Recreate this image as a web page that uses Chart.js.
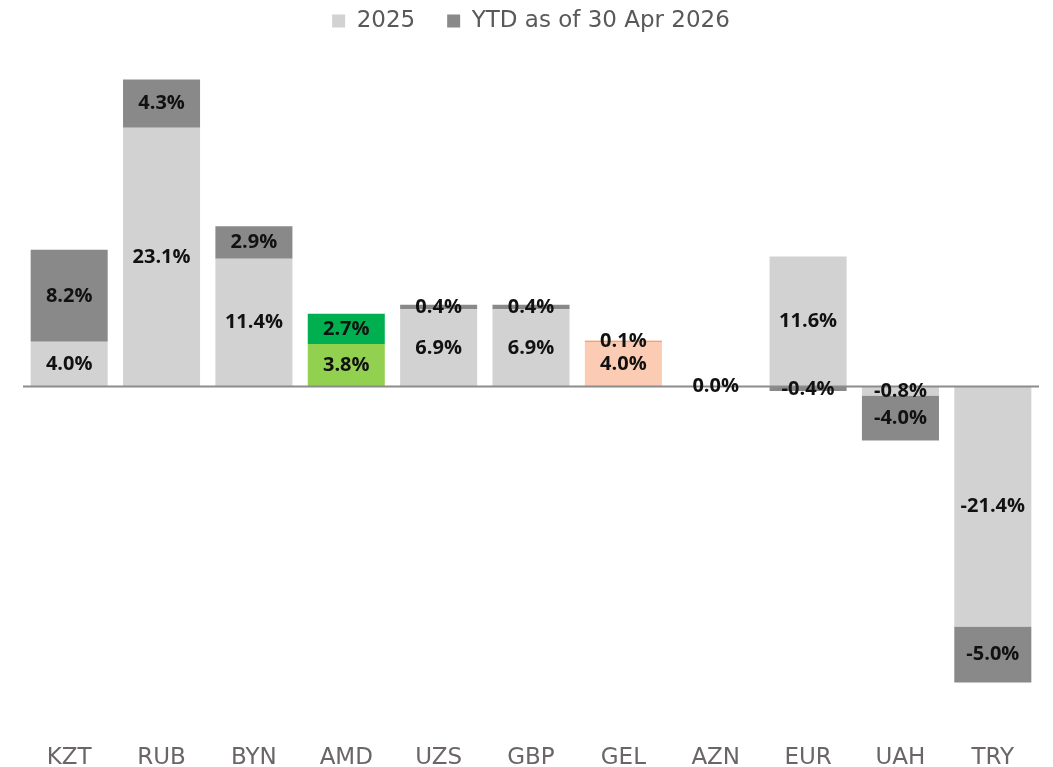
<!DOCTYPE html>
<html>
<head>
<meta charset="utf-8">
<script src="https://cdn.jsdelivr.net/npm/chart.js@4/dist/chart.umd.min.js"></script>
<style>
  html, body { margin: 0; padding: 0; background: #ffffff; }
  #wrap { width: 1053px; height: 767px; }
</style>
</head>
<body>
<div id="wrap"><canvas id="fx-chart"></canvas></div>
<script>
// Currency moves vs USD: full year 2025 and YTD 2026
const categories = ['KZT', 'RUB', 'BYN', 'AMD', 'UZS', 'GBP', 'GEL', 'AZN', 'EUR', 'UAH', 'TRY'];
const values2025 = [4.0, 23.1, 11.4, 3.8, 6.9, 6.9, 4.0, 0.0, 11.6, -0.8, -21.4];
const valuesYtd = [8.2, 4.3, 2.9, 2.7, 0.4, 0.4, 0.1, 0.0, -0.4, -4.0, -5.0];
const seriesNames = ['2025', 'YTD as of 30 Apr 2026'];

// Highlight colours (AMD green, GEL orange), grey elsewhere
const colors2025 = categories.map(c => c === 'AMD' ? '#92d050' : c === 'GEL' ? '#fccbb3' : '#d2d2d2');
const colorsYtd = categories.map(c => c === 'AMD' ? '#00b050' : c === 'GEL' ? '#f46f1e' : '#898989');

const FONT = "'DejaVu Sans', sans-serif";
const LABEL_FONT = "'Open Sans', 'DejaVu Sans', sans-serif";

// Zero line + centred value labels
const barLabels = {
  id: 'barLabels',
  afterDatasetsDraw(chart) {
    const ctx = chart.ctx;
    const area = chart.chartArea;
    const y0 = chart.scales.y.getPixelForValue(0);
    ctx.save();
    ctx.strokeStyle = '#8c8c8c';
    ctx.lineWidth = 2;
    ctx.beginPath();
    ctx.moveTo(area.left, y0);
    ctx.lineTo(area.right, y0);
    ctx.stroke();

    ctx.fillStyle = '#111111';
    ctx.font = "bold 20px " + LABEL_FONT;
    ctx.textAlign = 'center';
    ctx.textBaseline = 'middle';
    chart.data.datasets.forEach((ds, di) => {
      const meta = chart.getDatasetMeta(di);
      meta.data.forEach((bar, i) => {
        const v = ds.data[i];
        if (di === 1 && v === 0 && chart.data.datasets[0].data[i] === 0) return;
        const p = bar.getProps(['x', 'y', 'base'], true);
        const cy = (p.y + p.base) / 2;
        ctx.fillText(v.toFixed(1) + '%', p.x, cy);
      });
    });
    ctx.restore();
  }
};

new Chart(document.getElementById('fx-chart').getContext('2d'), {
  type: 'bar',
  data: {
    labels: categories,
    datasets: [
      {
        label: seriesNames[0],
        data: values2025,
        backgroundColor: colors2025,
        stack: 's',
        barPercentage: 1,
        categoryPercentage: 0.834
      },
      {
        label: seriesNames[1],
        data: valuesYtd,
        backgroundColor: colorsYtd,
        stack: 's',
        barPercentage: 1,
        categoryPercentage: 0.834
      }
    ]
  },
  options: {
    responsive: true,
    maintainAspectRatio: false,
    animation: false,
    layout: { padding: { left: 23, right: 14, top: -22.5, bottom: -20.5 } },
    plugins: {
      legend: {
        position: 'top',
        labels: {
          color: '#595959',
          font: { family: FONT, size: 23 },
          boxWidth: 13,
          boxHeight: 13,
          padding: 32,
          generateLabels(chart) {
            return chart.data.datasets.map((ds, i) => ({
              text: ds.label,
              fillStyle: i === 0 ? '#d2d2d2' : '#898989',
              strokeStyle: 'transparent',
              lineWidth: 0,
              fontColor: '#595959',
              datasetIndex: i
            }));
          }
        }
      },
      tooltip: { enabled: false }
    },
    scales: {
      x: {
        stacked: true,
        grid: { display: false, drawTicks: false },
        border: { display: false },
        ticks: {
          color: '#6b6566',
          font: { family: FONT, size: 23 },
          padding: 16
        }
      },
      y: {
        stacked: true,
        display: false,
        min: -30.45,
        max: 30.7
      }
    }
  },
  plugins: [barLabels]
});
</script>
</body>
</html>
